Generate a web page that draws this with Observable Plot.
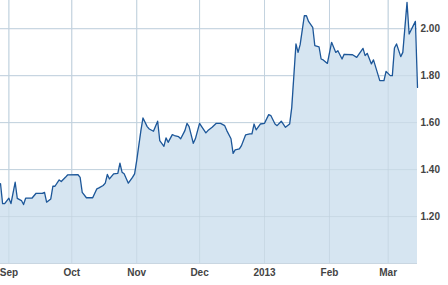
<!DOCTYPE html>
<html>
<head>
<meta charset="utf-8">
<script src="https://cdn.jsdelivr.net/npm/d3@7"></script>
<script src="https://cdn.jsdelivr.net/npm/@observablehq/plot@0.6"></script>
<style>
  html, body { margin: 0; padding: 0; background: #fff; }
  #chart svg { display: block; }
</style>
</head>
<body>
<div id="chart"></div>
<script>
const dates = [
  "2012-08-28","2012-08-29","2012-08-30","2012-09-01","2012-09-02","2012-09-04","2012-09-05","2012-09-07","2012-09-08","2012-09-09",
  "2012-09-12","2012-09-14","2012-09-17","2012-09-18","2012-09-19","2012-09-21","2012-09-22","2012-09-23","2012-09-25","2012-09-26",
  "2012-09-28","2012-09-29","2012-10-04","2012-10-05","2012-10-06","2012-10-08","2012-10-11","2012-10-13","2012-10-14","2012-10-16",
  "2012-10-17","2012-10-18","2012-10-19","2012-10-21","2012-10-23","2012-10-24","2012-10-25","2012-10-26","2012-10-28","2012-10-30",
  "2012-10-31","2012-11-01","2012-11-03","2012-11-04","2012-11-06","2012-11-07","2012-11-09","2012-11-11","2012-11-12","2012-11-14",
  "2012-11-15","2012-11-16","2012-11-18","2012-11-19","2012-11-21","2012-11-22","2012-11-24","2012-11-25","2012-11-26","2012-11-28",
  "2012-11-29","2012-12-01","2012-12-02","2012-12-04","2012-12-05","2012-12-07","2012-12-09","2012-12-11","2012-12-13","2012-12-14",
  "2012-12-16","2012-12-17","2012-12-18","2012-12-20","2012-12-21","2012-12-23","2012-12-25","2012-12-26","2012-12-27","2012-12-28",
  "2012-12-30","2013-01-01","2013-01-03","2013-01-04","2013-01-06","2013-01-07","2013-01-09","2013-01-11","2013-01-13","2013-01-14",
  "2013-01-16","2013-01-17","2013-01-18","2013-01-20","2013-01-21","2013-01-22","2013-01-24","2013-01-25","2013-01-27","2013-01-28",
  "2013-01-29","2013-01-31","2013-02-02","2013-02-04","2013-02-05","2013-02-07","2013-02-08","2013-02-12","2013-02-14","2013-02-17",
  "2013-02-18","2013-02-19","2013-02-21","2013-02-22","2013-02-25","2013-02-27","2013-02-28","2013-03-02","2013-03-03","2013-03-04",
  "2013-03-05","2013-03-07","2013-03-08","2013-03-10","2013-03-11","2013-03-14","2013-03-15"
];
const values = [
  1.340,1.255,1.255,1.278,1.255,1.346,1.277,1.268,1.251,1.278,
  1.278,1.299,1.299,1.303,1.261,1.275,1.329,1.329,1.356,1.349,
  1.367,1.377,1.378,1.367,1.303,1.280,1.280,1.318,1.322,1.332,
  1.342,1.379,1.360,1.382,1.384,1.427,1.389,1.382,1.342,1.367,
  1.382,1.438,1.566,1.620,1.583,1.573,1.563,1.606,1.523,1.499,
  1.535,1.516,1.549,1.545,1.540,1.531,1.566,1.597,1.583,1.512,
  1.531,1.597,1.583,1.556,1.566,1.580,1.597,1.597,1.587,1.566,
  1.531,1.469,1.484,1.488,1.502,1.548,1.552,1.552,1.594,1.569,
  1.594,1.597,1.634,1.630,1.594,1.587,1.606,1.580,1.594,1.665,
  1.935,1.899,1.932,2.055,2.055,2.031,2.006,1.928,1.923,1.871,
  1.867,1.852,1.942,1.899,1.906,1.871,1.891,1.889,1.878,1.916,
  1.885,1.895,1.850,1.867,1.779,1.779,1.818,1.800,1.800,1.918,
  1.935,1.881,1.899,2.112,1.977,2.031,1.750
];
const monthTicks = ["2012-09-01","2012-10-01","2012-11-01","2012-12-01","2013-01-01","2013-02-01","2013-03-01"];
const monthLabels = ["Sep","Oct","Nov","Dec","2013","Feb","Mar"];
const yTicks = [1.2, 1.4, 1.6, 1.8, 2.0];

const data = dates.map((d, i) => ({date: new Date(d), value: values[i]}));
const tickDates = monthTicks.map(d => new Date(d));
const labelOf = new Map(tickDates.map((d, i) => [+d, monthLabels[i]]));

const gridColor = "#c9d6e1";
const chart = Plot.plot({
  width: 448,
  height: 285,
  marginLeft: 0,
  marginRight: 31,
  marginTop: 0,
  marginBottom: 22,
  style: {fontFamily: "'Liberation Sans', Arial, sans-serif", fontSize: "10px", fontWeight: "bold", color: "#444", background: "#fff"},
  x: {type: "utc", domain: [new Date("2012-08-28"), new Date("2013-03-15")], label: null},
  y: {domain: [1.0, 2.12], label: null},
  marks: [
    Plot.gridX(tickDates, {stroke: gridColor, strokeOpacity: 1}),
    Plot.gridY(yTicks, {stroke: gridColor, strokeOpacity: 1}),
    Plot.areaY(data, {x: "date", y1: 1.0, y2: "value", fill: "#d6e5f1"}),
    Plot.gridX(tickDates, {stroke: "#bfd0de", strokeOpacity: 0.6}),
    Plot.gridY(yTicks, {stroke: "#bfd0de", strokeOpacity: 0.6}),
    Plot.lineY(data, {x: "date", y: "value", stroke: "#1d5799", strokeWidth: 1.3}),
    Plot.ruleY([1.0], {stroke: gridColor}),
    Plot.axisX(tickDates, {tickSize: 0, tickPadding: 5, tickFormat: d => labelOf.get(+d), fill: "#444", label: null}),
    Plot.axisY(yTicks, {anchor: "right", tickSize: 0, tickPadding: 3, tickFormat: d => d.toFixed(2), fill: "#444", label: null})
  ]
});
document.getElementById("chart").appendChild(chart);
</script>
</body>
</html>
